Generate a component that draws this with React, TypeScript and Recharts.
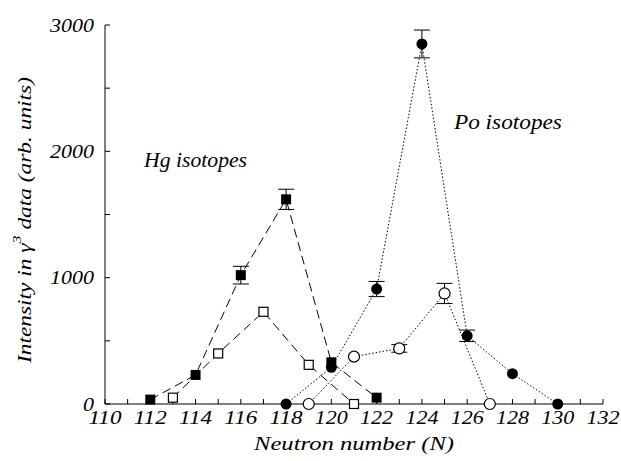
import React from "react";
import {
  LineChart,
  Line,
  XAxis,
  YAxis,
  ErrorBar,
  ReferenceDot,
} from "recharts";

// Hg isotopes, filled squares (dashed)
const hgFilledN = [112, 114, 116, 118, 120, 122];
const hgFilledI = [35, 230, 1020, 1620, 330, 50];
const hgFilledErr = [0, 0, 70, 80, 0, 0];

// Hg isotopes, open squares (dashed)
const hgOpenN = [113, 115, 117, 119, 121];
const hgOpenI = [50, 400, 730, 310, 0];

// Po isotopes, filled circles (dotted)
const poFilledN = [118, 120, 122, 124, 126, 128, 130];
const poFilledI = [0, 290, 910, 2850, 540, 240, 0];
const poFilledErr = [0, 0, 60, 110, 45, 0, 0];

// Po isotopes, open circles (dotted)
const poOpenN = [119, 121, 123, 125, 127];
const poOpenI = [0, 375, 440, 875, 0];
const poOpenErr = [0, 0, 30, 80, 0];

const xTicks = [110, 111, 112, 113, 114, 115, 116, 117, 118, 119, 120, 121, 122, 123, 124, 125, 126, 127, 128, 129, 130, 131, 132];
const yTicks = [0, 500, 1000, 1500, 2000, 2500, 3000];

const FONT = '"Liberation Serif", "DejaVu Serif", serif';

const toRows = (n: number[], v: number[], e?: number[]) =>
  n.map((x, i) => ({ n: x, v: v[i], err: e ? e[i] : 0 }));

const hgFilled = toRows(hgFilledN, hgFilledI, hgFilledErr);
const hgOpen = toRows(hgOpenN, hgOpenI);
const poFilled = toRows(poFilledN, poFilledI, poFilledErr);
const poOpen = toRows(poOpenN, poOpenI, poOpenErr);

// text with a forced width so it spans like the reference, whatever font is found
const T = ({ x, y, w, size = 20, anchor = "middle", children, ...rest }: any) => (
  <text
    x={x}
    y={y}
    textAnchor={anchor}
    dominantBaseline="central"
    fontFamily={FONT}
    fontStyle="italic"
    fontSize={size}
    fill="#000"
    textLength={w}
    lengthAdjust="spacingAndGlyphs"
    {...rest}
  >
    {children}
  </text>
);

const XTick = (p: any) => {
  const v = p.payload.value;
  if (v % 2 !== 0) return <g />;
  return (
    <T x={p.x} y={p.y + 6} w={33} size={19}>
      {v}
    </T>
  );
};

const YTick = (p: any) => {
  const v = p.payload.value;
  if (v % 1000 !== 0) return <g />;
  const s = String(v);
  return (
    <T x={p.x} y={p.y} w={s.length * 11} size={19} anchor="end">
      {s}
    </T>
  );
};

const FilledSquare = (p: any) => {
  if (p.cx == null) return null;
  return <rect key={p.key} x={p.cx - 5} y={p.cy - 5} width={10} height={10} fill="#000" />;
};
const OpenSquare = (p: any) => {
  if (p.cx == null) return null;
  return (
    <rect key={p.key} x={p.cx - 4.5} y={p.cy - 4.5} width={9} height={9} fill="#fff" stroke="#000" strokeWidth={1.2} />
  );
};
const FilledCircle = (p: any) => {
  if (p.cx == null) return null;
  return <circle key={p.key} cx={p.cx} cy={p.cy} r={5.5} fill="#000" />;
};
const OpenCircle = (p: any) => {
  if (p.cx == null) return null;
  return <circle key={p.key} cx={p.cx} cy={p.cy} r={5.5} fill="#fff" stroke="#000" strokeWidth={1.2} />;
};

const note = (text: string, w: number) => (props: any) => {
  const { viewBox } = props;
  return (
    <T x={viewBox.x} y={viewBox.y} w={w} size={21}>
      {text}
    </T>
  );
};

const XLabel = () => (
  <T x={354} y={443} w={200} size={19}>
    Neutron number (N)
  </T>
);

const YLabel = () => (
  <text
    x={24}
    y={220}
    transform="rotate(-90 24 220)"
    textAnchor="middle"
    dominantBaseline="central"
    fontFamily={FONT}
    fontStyle="italic"
    fontSize={19}
    fill="#000"
    textLength={286}
    lengthAdjust="spacingAndGlyphs"
  >
    <tspan>Intensity in γ</tspan>
    <tspan fontSize={13} dy={-8}>3</tspan>
    <tspan dy={8}> data (arb. units)</tspan>
  </text>
);

export default function App() {
  return (
    <div style={{ position: "absolute", left: 0, top: 0, background: "#fff" }}>
      <LineChart width={621} height={461} margin={{ top: 25, right: 18, left: 0, bottom: 0 }}>
        <XAxis
          dataKey="n"
          type="number"
          domain={[110, 132]}
          ticks={xTicks}
          interval={0}
          tick={XTick}
          tickSize={-5}
          tickMargin={12}
          stroke="#000"
          height={57}
          label={{ content: XLabel }}
        />
        <XAxis
          xAxisId="top"
          orientation="top"
          type="number"
          domain={[110, 132]}
          ticks={xTicks}
          interval={0}
          tick={false}
          tickSize={-5}
          stroke="#000"
          height={0}
        />
        <YAxis
          type="number"
          domain={[0, 3000]}
          ticks={yTicks}
          interval={0}
          tick={YTick}
          tickSize={-5}
          tickMargin={16}
          stroke="#000"
          width={105}
          label={{ content: YLabel }}
        />
        <YAxis
          yAxisId="right"
          orientation="right"
          type="number"
          domain={[0, 3000]}
          ticks={yTicks}
          interval={0}
          tick={false}
          tickSize={-5}
          stroke="#000"
          width={0}
        />
        <Line
          data={hgFilled}
          dataKey="v"
          stroke="#000"
          strokeWidth={1}
          strokeDasharray="9 5"
          dot={FilledSquare}
          activeDot={false}
          isAnimationActive={false}
        >
          <ErrorBar dataKey="err" width={8} stroke="#000" strokeWidth={1} direction="y" />
        </Line>
        <Line
          data={hgOpen}
          dataKey="v"
          stroke="#000"
          strokeWidth={1}
          strokeDasharray="9 5"
          dot={OpenSquare}
          activeDot={false}
          isAnimationActive={false}
        />
        <Line
          data={poFilled}
          dataKey="v"
          stroke="#000"
          strokeWidth={1}
          strokeDasharray="1.5 2"
          dot={FilledCircle}
          activeDot={false}
          isAnimationActive={false}
        >
          <ErrorBar dataKey="err" width={8} stroke="#000" strokeWidth={1} direction="y" />
        </Line>
        <Line
          data={poOpen}
          dataKey="v"
          stroke="#000"
          strokeWidth={1}
          strokeDasharray="1.5 2"
          dot={OpenCircle}
          activeDot={false}
          isAnimationActive={false}
        >
          <ErrorBar dataKey="err" width={8} stroke="#000" strokeWidth={1} direction="y" />
        </Line>
        <ReferenceDot x={114} y={1930} r={0} stroke="none" label={{ content: note("Hg isotopes", 103) }} />
        <ReferenceDot x={127.8} y={2235} r={0} stroke="none" label={{ content: note("Po isotopes", 108) }} />
      </LineChart>
    </div>
  );
}
